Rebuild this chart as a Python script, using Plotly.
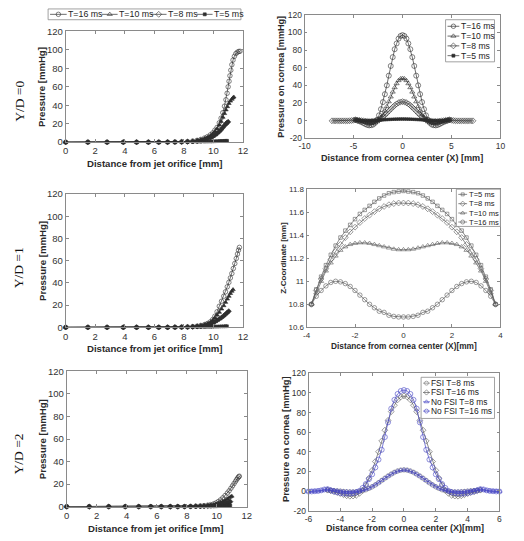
import plotly.graph_objects as go

W, H = 524, 541
SANS = "Liberation Sans, Arial, sans-serif"
SERIF = "Liberation Serif, Times New Roman, serif"

# ---------------- DATA ----------------
# Left column: pressure along jet axis, Y/D = 0
yd0_t16_x = [0, 1.5, 2.8, 3.9, 4.8, 5.6, 6.3, 6.9, 7.4, 7.85, 8.25, 8.6, 8.9, 9.15, 9.4, 9.6, 9.8, 9.95, 10.1, 10.25, 10.4, 10.52, 10.64, 10.75, 10.85, 10.93, 11.0, 11.06, 11.12, 11.18, 11.25, 11.33, 11.42, 11.52, 11.62, 11.72, 11.8]
yd0_t16_y = [0, 0, 0, 0, 0, 0, 0, 0.1, 0.2, 0.4, 0.7, 1.2, 2.0, 3.0, 4.5, 6.0, 8.0, 10.0, 13.0, 16.0, 21.0, 26.0, 32.0, 39.0, 46.0, 53.0, 60.0, 66.0, 72.0, 78.0, 84.0, 89.0, 93.0, 96.0, 97.5, 98.3, 98.5]
yd0_t10_x = [0, 1.5, 2.8, 3.9, 4.8, 5.6, 6.3, 6.9, 7.4, 7.85, 8.25, 8.6, 8.9, 9.15, 9.4, 9.6, 9.8, 9.95, 10.1, 10.25, 10.4, 10.52, 10.64, 10.75, 10.85, 10.95, 11.05, 11.15, 11.25, 11.32, 11.38]
yd0_t10_y = [0, 0, 0, 0, 0, 0, 0, 0.1, 0.2, 0.4, 0.7, 1.1, 1.8, 2.7, 4.0, 5.3, 7.0, 9.0, 11.5, 14.5, 18.5, 22.5, 27.0, 31.0, 35.0, 38.5, 42.0, 44.5, 46.5, 48.0, 49.0]
yd0_t8_x = [0, 1.5, 2.8, 3.9, 4.8, 5.6, 6.3, 6.9, 7.4, 7.85, 8.25, 8.6, 8.9, 9.15, 9.4, 9.6, 9.8, 9.95, 10.1, 10.25, 10.4, 10.52, 10.64, 10.75, 10.85, 10.93, 11.0]
yd0_t8_y = [0, 0, 0, 0, 0, 0, 0, 0.1, 0.2, 0.3, 0.5, 0.8, 1.3, 2.0, 2.8, 3.7, 4.8, 6.0, 7.5, 9.3, 11.5, 13.5, 15.8, 18.0, 19.8, 21.2, 22.0]
yd0_t5_x = [0, 1.5, 2.8, 3.9, 4.8, 5.6, 6.3, 6.9, 7.4, 7.85, 8.25, 8.6, 8.9, 9.15, 9.4, 9.6, 9.8, 9.95, 10.1, 10.25, 10.4, 10.52, 10.64, 10.75, 10.85, 10.93]
yd0_t5_y = [0, 0, 0, 0, 0, 0, 0, 0, 0, 0.1, 0.2, 0.3, 0.4, 0.5, 0.6, 0.7, 0.8, 0.9, 1.0, 1.1, 1.2, 1.3, 1.35, 1.4, 1.45, 1.5]

# Y/D = 1
yd1_t16_x = [0, 1.5, 2.8, 3.9, 4.8, 5.6, 6.3, 6.9, 7.4, 7.85, 8.25, 8.6, 8.9, 9.15, 9.4, 9.6, 9.8, 9.95, 10.1, 10.25, 10.4, 10.55, 10.7, 10.82, 10.94, 11.05, 11.15, 11.25, 11.35, 11.45, 11.55, 11.63, 11.7, 11.76]
yd1_t16_y = [0, 0, 0, 0, 0, 0, 0, 0, 0.1, 0.2, 0.4, 0.7, 1.1, 1.7, 2.5, 3.5, 5.0, 7.0, 10.0, 14.0, 19.0, 23.5, 28.0, 32.0, 36.5, 40.5, 44.5, 48.5, 53.0, 57.5, 62.0, 66.0, 69.5, 72.0]
yd1_t10_x = [0, 1.5, 2.8, 3.9, 4.8, 5.6, 6.3, 6.9, 7.4, 7.85, 8.25, 8.6, 8.9, 9.15, 9.4, 9.6, 9.8, 9.95, 10.1, 10.25, 10.4, 10.55, 10.7, 10.82, 10.94, 11.05, 11.15, 11.25, 11.33]
yd1_t10_y = [0, 0, 0, 0, 0, 0, 0, 0, 0.1, 0.2, 0.4, 0.7, 1.1, 1.6, 2.4, 3.3, 4.6, 6.2, 8.5, 11.0, 13.5, 16.5, 19.5, 22.5, 25.5, 28.0, 30.5, 32.5, 34.0]
yd1_t8_x = [0, 1.5, 2.8, 3.9, 4.8, 5.6, 6.3, 6.9, 7.4, 7.85, 8.25, 8.6, 8.9, 9.15, 9.4, 9.6, 9.8, 9.95, 10.1, 10.25, 10.4, 10.55, 10.7, 10.82, 10.94, 11.04]
yd1_t8_y = [0, 0, 0, 0, 0, 0, 0, 0, 0.1, 0.2, 0.3, 0.5, 0.8, 1.2, 1.7, 2.3, 3.0, 3.8, 5.0, 6.2, 7.5, 8.8, 10.3, 11.8, 13.2, 14.5]
yd1_t5_x = [0, 1.5, 2.8, 3.9, 4.8, 5.6, 6.3, 6.9, 7.4, 7.85, 8.25, 8.6, 8.9, 9.15, 9.4, 9.6, 9.8, 9.95, 10.1, 10.25, 10.4, 10.55, 10.7, 10.82, 10.92]
yd1_t5_y = [0, 0, 0, 0, 0, 0, 0, 0, 0, 0.1, 0.1, 0.2, 0.3, 0.3, 0.4, 0.5, 0.5, 0.6, 0.7, 0.7, 0.8, 0.9, 0.9, 1.0, 1.0]

# Y/D = 2
yd2_t16_x = [0, 1.5, 2.8, 3.9, 4.8, 5.6, 6.3, 6.9, 7.4, 7.85, 8.25, 8.6, 8.9, 9.15, 9.4, 9.6, 9.8, 9.95, 10.1, 10.25, 10.4, 10.55, 10.7, 10.82, 10.94, 11.05, 11.15, 11.25, 11.33, 11.4, 11.46, 11.5]
yd2_t16_y = [0, 0, 0, 0, 0, 0, 0, 0, 0, 0.1, 0.2, 0.4, 0.6, 0.9, 1.3, 1.8, 2.5, 3.3, 4.5, 6.0, 7.8, 9.8, 12.0, 14.0, 16.3, 18.5, 20.5, 22.5, 24.2, 25.5, 26.5, 27.0]
yd2_t10_x = [0, 1.5, 2.8, 3.9, 4.8, 5.6, 6.3, 6.9, 7.4, 7.85, 8.25, 8.6, 8.9, 9.15, 9.4, 9.6, 9.8, 9.95, 10.1, 10.25, 10.4, 10.55, 10.7, 10.82, 10.92, 11.0]
yd2_t10_y = [0, 0, 0, 0, 0, 0, 0, 0, 0, 0.1, 0.2, 0.3, 0.5, 0.7, 1.0, 1.3, 1.8, 2.3, 3.0, 3.8, 4.7, 5.7, 6.8, 7.8, 8.7, 9.3]
yd2_t8_x = [0, 1.5, 2.8, 3.9, 4.8, 5.6, 6.3, 6.9, 7.4, 7.85, 8.25, 8.6, 8.9, 9.15, 9.4, 9.6, 9.8, 9.95, 10.1, 10.25, 10.4, 10.55, 10.7, 10.82, 10.9]
yd2_t8_y = [0, 0, 0, 0, 0, 0, 0, 0, 0, 0, 0.1, 0.2, 0.3, 0.4, 0.6, 0.8, 1.0, 1.3, 1.7, 2.1, 2.6, 3.1, 3.6, 4.0, 4.4]
yd2_t5_x = [0, 1.5, 2.8, 3.9, 4.8, 5.6, 6.3, 6.9, 7.4, 7.85, 8.25, 8.6, 8.9, 9.15, 9.4, 9.6, 9.8, 9.95, 10.1, 10.25, 10.4, 10.55, 10.7, 10.82, 10.9]
yd2_t5_y = [0, 0, 0, 0, 0, 0, 0, 0, 0, 0, 0, 0.1, 0.1, 0.1, 0.2, 0.2, 0.3, 0.3, 0.4, 0.5, 0.6, 0.7, 0.8, 0.9, 1.0]

# Top right: pressure on cornea vs X
cor_x = [-4.8, -4.6, -4.4, -4.2, -4.0, -3.8, -3.6, -3.4, -3.2, -3.0, -2.8, -2.6, -2.4, -2.2, -2.0, -1.8, -1.6, -1.4, -1.2, -1.0, -0.8, -0.6, -0.4, -0.2, 0.0,
         0.2, 0.4, 0.6, 0.8, 1.0, 1.2, 1.4, 1.6, 1.8, 2.0, 2.2, 2.4, 2.6, 2.8, 3.0, 3.2, 3.4, 3.6, 3.8, 4.0, 4.2, 4.4, 4.6, 4.8]
cor_t16 = [0.8, 0.1, -0.7, -1.6, -2.7, -3.9, -4.9, -5.4, -5.2, -4.5, -2.5, 1.0, 6.0, 13.0, 21.0, 30.0, 40.0, 51.0, 62.0, 72.0, 81.0, 87.5, 93.0, 96.0, 97.0,
           96.0, 93.0, 87.5, 81.0, 72.0, 62.0, 51.0, 40.0, 30.0, 21.0, 13.0, 6.0, 1.0, -2.5, -4.5, -5.2, -5.4, -4.9, -3.9, -2.7, -1.6, -0.7, 0.1, 0.8]
cor_t10 = [0.8, 0.4, 0.0, -0.5, -1.1, -1.7, -2.3, -2.8, -3.0, -2.8, -2.2, -1.2, 0.5, 3.0, 6.5, 11.0, 16.0, 21.5, 27.0, 32.5, 37.5, 42.0, 45.5, 47.5, 48.0,
           47.5, 45.5, 42.0, 37.5, 32.5, 27.0, 21.5, 16.0, 11.0, 6.5, 3.0, 0.5, -1.2, -2.2, -2.8, -3.0, -2.8, -2.3, -1.7, -1.1, -0.5, 0.0, 0.4, 0.8]
cor_t5 = [1.0, 0.5, 0.2, 0.1, 0.0, 0.0, 0.0, 0.05, 0.1, 0.2, 0.3, 0.45, 0.6, 0.75, 0.9, 1.05, 1.2, 1.35, 1.45, 1.55, 1.65, 1.7, 1.75, 1.8, 1.8,
          1.8, 1.75, 1.7, 1.65, 1.55, 1.45, 1.35, 1.2, 1.05, 0.9, 0.75, 0.6, 0.45, 0.3, 0.2, 0.1, 0.05, 0.0, 0.0, 0.0, 0.1, 0.2, 0.5, 1.0]
cor8_x = [-7.2, -7.0, -6.8, -6.6, -6.4, -6.2, -6.0, -5.8, -5.6, -5.4, -5.2, -5.0,
          -4.8, -4.6, -4.4, -4.2, -4.0, -3.8, -3.6, -3.4, -3.2, -3.0, -2.8, -2.6, -2.4, -2.2, -2.0, -1.8, -1.6, -1.4, -1.2, -1.0, -0.8, -0.6, -0.4, -0.2, 0.0,
          0.2, 0.4, 0.6, 0.8, 1.0, 1.2, 1.4, 1.6, 1.8, 2.0, 2.2, 2.4, 2.6, 2.8, 3.0, 3.2, 3.4, 3.6, 3.8, 4.0, 4.2, 4.4, 4.6, 4.8,
          5.0, 5.2, 5.4, 5.6, 5.8, 6.0, 6.2, 6.4, 6.6, 6.8, 7.0, 7.2]
cor_t8 = [-0.2, -0.2, -0.2, -0.2, -0.2, -0.2, -0.2, -0.2, -0.2, -0.1, 0.1, 0.5,
          0.9, 0.6, 0.3, 0.0, -0.3, -0.6, -0.9, -1.1, -1.1, -0.9, -0.5, 0.2, 1.2, 2.6, 4.3, 6.2, 8.4, 10.7, 13.0, 15.2, 17.2, 19.0, 20.3, 21.2, 21.5,
          21.2, 20.3, 19.0, 17.2, 15.2, 13.0, 10.7, 8.4, 6.2, 4.3, 2.6, 1.2, 0.2, -0.5, -0.9, -1.1, -1.1, -0.9, -0.6, -0.3, 0.0, 0.3, 0.6, 0.9,
          0.5, 0.1, -0.1, -0.2, -0.2, -0.2, -0.2, -0.2, -0.2, -0.2, -0.2, -0.2]

# Middle right: Z-coordinate of cornea vs X
z_x = [-3.8, -3.6, -3.4, -3.2, -3.0, -2.8, -2.6, -2.4, -2.2, -2.0, -1.8, -1.6, -1.4, -1.2, -1.0, -0.8, -0.6, -0.4, -0.2, 0.0,
       0.2, 0.4, 0.6, 0.8, 1.0, 1.2, 1.4, 1.6, 1.8, 2.0, 2.2, 2.4, 2.6, 2.8, 3.0, 3.2, 3.4, 3.6, 3.8]
z_t5 = [10.80, 10.93, 11.04, 11.14, 11.23, 11.31, 11.38, 11.44, 11.49, 11.54, 11.585, 11.62, 11.655, 11.69, 11.72, 11.745, 11.765, 11.775, 11.78, 11.785,
        11.78, 11.775, 11.765, 11.745, 11.72, 11.69, 11.655, 11.62, 11.585, 11.54, 11.49, 11.44, 11.38, 11.31, 11.23, 11.14, 11.04, 10.93, 10.80]
z_t8 = [10.80, 10.92, 11.02, 11.11, 11.19, 11.26, 11.32, 11.38, 11.43, 11.47, 11.51, 11.545, 11.575, 11.605, 11.63, 11.65, 11.665, 11.675, 11.68, 11.68,
        11.68, 11.675, 11.665, 11.65, 11.63, 11.605, 11.575, 11.545, 11.51, 11.47, 11.43, 11.38, 11.32, 11.26, 11.19, 11.11, 11.02, 10.92, 10.80]
z_t10 = [10.80, 10.90, 11.00, 11.09, 11.16, 11.22, 11.27, 11.30, 11.32, 11.33, 11.335, 11.335, 11.33, 11.32, 11.31, 11.30, 11.29, 11.28, 11.275, 11.275,
         11.275, 11.28, 11.29, 11.30, 11.31, 11.32, 11.33, 11.335, 11.335, 11.33, 11.32, 11.30, 11.27, 11.22, 11.16, 11.09, 11.00, 10.90, 10.80]
z_t16 = [10.80, 10.87, 10.92, 10.96, 10.99, 11.00, 10.995, 10.98, 10.955, 10.92, 10.88, 10.84, 10.80, 10.77, 10.74, 10.73, 10.705, 10.695, 10.69, 10.69,
         10.69, 10.695, 10.705, 10.73, 10.74, 10.77, 10.80, 10.84, 10.88, 10.92, 10.955, 10.98, 10.995, 11.00, 10.99, 10.96, 10.92, 10.87, 10.80]

# Bottom right: FSI vs no-FSI
nofsi_x = [-6.0, -5.8, -5.6, -5.4, -5.2, -5.0, -4.8, -4.6, -4.4, -4.2, -4.0, -3.8, -3.6, -3.4, -3.2, -3.0, -2.8, -2.6, -2.4, -2.2, -2.0, -1.8, -1.6, -1.4, -1.2, -1.0, -0.8, -0.6, -0.4, -0.2, 0.0,
           0.2, 0.4, 0.6, 0.8, 1.0, 1.2, 1.4, 1.6, 1.8, 2.0, 2.2, 2.4, 2.6, 2.8, 3.0, 3.2, 3.4, 3.6, 3.8, 4.0, 4.2, 4.4, 4.6, 4.8, 5.0, 5.2, 5.4, 5.6, 5.8, 6.0]
nofsi_t16 = [-0.6, -0.5, -0.3, 0.0, 0.6, 1.5, 1.8, 0.5, -0.6, -1.4, -2.1, -2.6, -2.8, -2.7, -2.3, -1.5, 0.0, 3.0, 7.0, 12.0, 17.0, 24.0, 32.0, 42.0, 55.0, 70.0, 84.0, 93.0, 99.0, 102.0, 103.0,
             102.0, 99.0, 93.0, 84.0, 70.0, 55.0, 42.0, 32.0, 24.0, 17.0, 12.0, 7.0, 3.0, 0.0, -1.5, -2.3, -2.7, -2.8, -2.6, -2.1, -1.4, -0.6, 0.5, 1.8, 1.5, 0.6, 0.0, -0.3, -0.5, -0.6]
nofsi_t8 = [-0.3, -0.3, -0.2, 0.0, 0.4, 1.2, 1.8, 1.2, 0.7, 0.3, -0.1, -0.4, -0.7, -0.8, -0.8, -0.6, -0.2, 0.5, 1.5, 2.8, 4.5, 6.4, 8.5, 10.8, 13.0, 15.2, 17.2, 19.0, 20.3, 21.2, 21.5,
            21.2, 20.3, 19.0, 17.2, 15.2, 13.0, 10.8, 8.5, 6.4, 4.5, 2.8, 1.5, 0.5, -0.2, -0.6, -0.8, -0.8, -0.7, -0.4, -0.1, 0.3, 0.7, 1.2, 1.8, 1.2, 0.4, 0.0, -0.2, -0.3, -0.3]
fsi_x = cor8_x[12:61]
fsi_t8 = cor_t8[12:61]
fsi_t16 = cor_t16

# ---------------- FIGURE ----------------
fig = go.Figure()

BLK = "#2e2e2e"
GRY = "#5a5a5a"
LGR = "#7a7a7a"
BLU = "#4646c4"


def add(n, x, y, color, symbol, size, lw=0.7, mlw=0.6):
    xa = "x" if n == 1 else f"x{n}"
    ya = "y" if n == 1 else f"y{n}"
    fig.add_trace(go.Scatter(
        x=x, y=y, xaxis=xa, yaxis=ya, mode="lines+markers",
        line=dict(color=color, width=lw),
        marker=dict(symbol=symbol, size=size, color=color, line=dict(color=color, width=mlw)),
        cliponaxis=False, showlegend=False, hoverinfo="skip"))


# left column
for n, sets in [(1, [(yd0_t16_x, yd0_t16_y), (yd0_t10_x, yd0_t10_y), (yd0_t8_x, yd0_t8_y), (yd0_t5_x, yd0_t5_y)]),
                (3, [(yd1_t16_x, yd1_t16_y), (yd1_t10_x, yd1_t10_y), (yd1_t8_x, yd1_t8_y), (yd1_t5_x, yd1_t5_y)]),
                (5, [(yd2_t16_x, yd2_t16_y), (yd2_t10_x, yd2_t10_y), (yd2_t8_x, yd2_t8_y), (yd2_t5_x, yd2_t5_y)])]:
    syms = [("circle-open", 4.5), ("triangle-up", 4), ("diamond", 4), ("square", 2.8)]
    for (x, y), (s, sz) in zip(sets, syms):
        add(n, x, y, BLK, s, sz)

# top right
add(2, cor_x, cor_t16, BLK, "circle-open", 5)
add(2, cor_x, cor_t10, BLK, "triangle-up-open", 4.5)
add(2, cor8_x, cor_t8, BLK, "diamond-open", 4.5)
add(2, cor_x, cor_t5, BLK, "square", 2.5)

# middle right
add(4, z_x, z_t5, GRY, "square-open", 3.5)
add(4, z_x, z_t8, GRY, "diamond-open", 4.5)
add(4, z_x, z_t10, GRY, "triangle-up-open", 4.5)
add(4, z_x, z_t16, GRY, "circle-open", 4.5)

# bottom right
add(6, fsi_x, fsi_t8, LGR, "circle-open", 4.5)
add(6, cor_x, fsi_t16, GRY, "diamond-open", 4.5)
add(6, nofsi_x, nofsi_t8, BLU, "triangle-up-open", 4.5)
add(6, nofsi_x, nofsi_t16, BLU, "circle-open", 5)

# ---------------- AXES ----------------
boxes = {1: (61, 26, 242, 139), 2: (305, 9, 505, 135), 3: (61, 192, 242, 328),
         4: (307, 187, 505, 328), 5: (62, 373, 246, 511), 6: (309, 375, 504, 515)}
cfg = {
    1: dict(xr=[0, 12], xt=[0, 2, 4, 6, 8, 10, 12], yr=[0, 120], yt=[0, 20, 40, 60, 80, 100, 120], fs=9.5),
    2: dict(xr=[-10, 10], xt=[-10, -5, 0, 5, 10], yr=[-20, 120], yt=[-20, 0, 20, 40, 60, 80, 100, 120], fs=8.5),
    3: dict(xr=[0, 12], xt=[0, 2, 4, 6, 8, 10, 12], yr=[0, 120], yt=[0, 20, 40, 60, 80, 100, 120], fs=9.5),
    4: dict(xr=[-4, 4], xt=[-4, -2, 0, 2, 4], yr=[10.6, 11.8], yt=[10.6, 10.8, 11.0, 11.2, 11.4, 11.6, 11.8], fs=8),
    5: dict(xr=[0, 12], xt=[0, 2, 4, 6, 8, 10, 12], yr=[0, 120], yt=[0, 20, 40, 60, 80, 100, 120], fs=9.5),
    6: dict(xr=[-6, 6], xt=[-6, -4, -2, 0, 2, 4, 6], yr=[-20, 120], yt=[-20, 0, 20, 40, 60, 80, 100, 120], fs=8.5),
}
AXC = "#8a8a8a"
common = dict(showline=True, linecolor=AXC, linewidth=0.8, mirror="ticks", ticks="inside", ticklen=3,
              tickcolor=AXC, tickwidth=0.8, showgrid=False, zeroline=False)
layout = {}
for n, (x0, y0, x1, y1) in boxes.items():
    c = cfg[n]
    sx = "" if n == 1 else str(n)
    tf = dict(family=SANS, size=c["fs"], color="#333333")
    layout[f"xaxis{sx}"] = dict(domain=[x0 / W, x1 / W], anchor=f"y{sx}", range=c["xr"], tickvals=c["xt"],
                                ticktext=[f"{v:g}" for v in c["xt"]], tickfont=tf, **common)
    layout[f"yaxis{sx}"] = dict(domain=[1 - y1 / H, 1 - y0 / H], anchor=f"x{sx}", range=c["yr"], tickvals=c["yt"],
                                ticktext=[f"{v:g}" for v in c["yt"]], tickfont=tf, **common)
# overlay pixel axis for legends
layout["xaxis7"] = dict(domain=[0, 1], anchor="y7", range=[0, W], visible=False, fixedrange=True)
layout["yaxis7"] = dict(domain=[0, 1], anchor="x7", range=[H, 0], visible=False, fixedrange=True)

fig.update_layout(width=W, height=H, margin=dict(l=0, r=0, t=0, b=0), paper_bgcolor="white",
                  plot_bgcolor="rgba(0,0,0,0)", showlegend=False, **layout)


def ann(text, px, py, size, angle=0, bold=True, family=SANS, color="#2a2a2a"):
    fig.add_annotation(text=f"<b>{text}</b>" if bold else text, x=px / W, y=1 - py / H, xref="paper", yref="paper",
                       showarrow=False, textangle=angle, xanchor="center", yanchor="middle",
                       font=dict(size=size, family=family, color=color))


# axis titles
ann("Distance from jet orifice [mm]", 152, 161, 9.6)
ann("Distance from jet orifice [mm]", 152, 350, 9.6)
ann("Distance from jet orifice [mm]", 153, 533, 9.6)
ann("Pressure [mmHg]", 37, 82.5, 9.6, -90)
ann("Pressure [mmHg]", 37, 260, 9.6, -90)
ann("Pressure [mmHg]", 37, 442, 9.6, -90)
ann("Distance from cornea center (X) [mm]", 404, 155.5, 9.1)
ann("Pressure on cornea [mmHg]", 280, 72, 9.1, -90)
ann("Distance from cornea center (X)[mm]", 407, 347, 8.3)
ann("Z-Coordinate [mm]", 284, 257, 8.0, -90)
ann("Distance from cornea center (X)[mm]", 408, 533, 9.0)
ann("Pressure on cornea [mmHg]", 285, 442, 9.4, -90)
# row labels
ann("Y/D =0", 13, 97, 13.5, -90, bold=False, family=SERIF, color="#111111")
ann("Y/D =1", 13, 267, 13.5, -90, bold=False, family=SERIF, color="#111111")
ann("Y/D =2", 13, 457, 13.5, -90, bold=False, family=SERIF, color="#111111")

# ---------------- LEGENDS (drawn in pixel overlay) ----------------
legends = [
    dict(box=(43, 3, 240, 14), fs=8.8, items=[
        (45, 62, 8.5, "T=16 ms", BLK, "circle-open", 4.5),
        (98, 114, 8.5, "T=10 ms", BLK, "triangle-up-open", 4.5),
        (148, 164, 8.5, "T=8 ms", BLK, "diamond-open", 4.5),
        (195, 211, 8.5, "T=5 ms", BLK, "square", 3)]),
    dict(box=(449, 14, 499, 57), fs=8.6, items=[
        (451, 463, 20.7, "T=16 ms", BLK, "circle-open", 4.5),
        (451, 463, 30.7, "T=10 ms", BLK, "triangle-up-open", 4.5),
        (451, 463, 40.7, "T=8 ms", BLK, "diamond-open", 4.5),
        (451, 463, 50.7, "T=5 ms", BLK, "square", 3)]),
    dict(box=(460, 187, 505, 225), fs=7.6, items=[
        (462, 471, 192.3, "T=5 ms", GRY, "square-open", 3),
        (462, 471, 201.8, "T=8 ms", GRY, "diamond-open", 4),
        (462, 471, 211.3, "T=10 ms", GRY, "triangle-up-open", 4),
        (462, 471, 220.5, "T=16 ms", GRY, "circle-open", 4)]),
    dict(box=(424, 379, 499, 421), fs=8.4, items=[
        (426, 433, 385, "FSI T=8 ms", LGR, "circle-open", 4),
        (426, 433, 394.5, "FSI T=16 ms", GRY, "diamond-open", 4),
        (426, 433, 404, "No FSI T=8 ms", BLU, "triangle-up-open", 4),
        (426, 433, 413.5, "No FSI T=16 ms", BLU, "circle-open", 4)]),
]
for lg in legends:
    x0, y0, x1, y1 = lg["box"]
    fig.add_trace(go.Scatter(x=[x0, x1, x1, x0, x0], y=[y0, y0, y1, y1, y0], xaxis="x7", yaxis="y7",
                             mode="lines", fill="toself", fillcolor="white", line=dict(color=AXC, width=0.8),
                             showlegend=False, hoverinfo="skip"))
for lg in legends:
    for (a, b, yc, text, color, sym, sz) in lg["items"]:
        fig.add_trace(go.Scatter(x=[a, b], y=[yc, yc], xaxis="x7", yaxis="y7", mode="lines",
                                 line=dict(color=color, width=0.7), showlegend=False, hoverinfo="skip"))
        fig.add_trace(go.Scatter(x=[(a + b) / 2], y=[yc], xaxis="x7", yaxis="y7", mode="markers",
                                 marker=dict(symbol=sym, size=sz, color=color, line=dict(color=color, width=0.6)),
                                 showlegend=False, hoverinfo="skip"))
        fig.add_annotation(text=text, x=b + 0.5, y=yc, xref="x7", yref="y7", showarrow=False,
                           xanchor="left", yanchor="middle", borderpad=0,
                           font=dict(size=lg["fs"], family=SANS, color="#222222"))

fig.write_html("out.html")
